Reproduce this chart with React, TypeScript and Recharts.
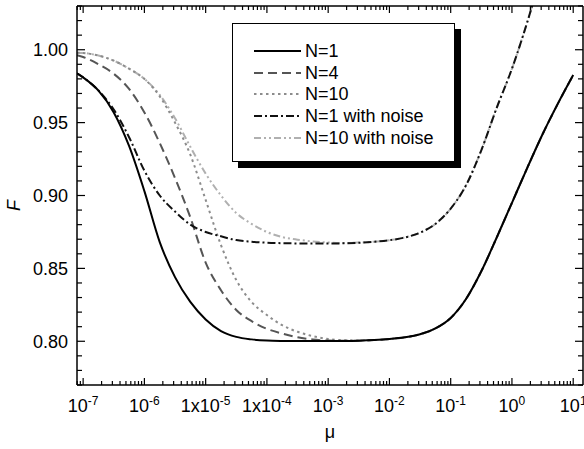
import React from 'react';
import { LineChart, Line, XAxis, YAxis, Legend } from 'recharts';

// mu grid (quarter decades, plus the left edge of the axis)
const mu = [
  7.94e-8, 1e-7, 1.78e-7, 3.16e-7, 5.62e-7, 1e-6, 1.78e-6, 3.16e-6, 5.62e-6,
  1e-5, 1.78e-5, 3.16e-5, 5.62e-5, 1e-4, 1.78e-4, 3.16e-4, 5.62e-4,
  1e-3, 1.78e-3, 3.16e-3, 5.62e-3, 1e-2, 1.78e-2, 3.16e-2, 5.62e-2,
  0.1, 0.178, 0.316, 0.562, 1, 1.78, 3.16, 5.62, 10,
];

const n1 = [
  0.9838, 0.981, 0.972, 0.957, 0.934, 0.903, 0.868, 0.844, 0.827,
  0.815, 0.807, 0.803, 0.8013, 0.8005, 0.8002, 0.8001, 0.8001,
  0.8001, 0.8002, 0.8004, 0.8008, 0.8015, 0.8027, 0.8048, 0.8088,
  0.816, 0.829, 0.848, 0.871, 0.895, 0.919, 0.942, 0.963, 0.9826,
];
const n4 = [
  0.9963, 0.995, 0.99, 0.9835, 0.9731, 0.957, 0.936, 0.912, 0.885,
  0.854, 0.835, 0.8215, 0.8138, 0.8085, 0.8053, 0.8027, 0.8012,
  0.8005, 0.8003, 0.8004, 0.8008, 0.8015, 0.8027, 0.8048, 0.8088,
  0.816, 0.829, 0.848, 0.871, 0.895, 0.919, 0.942, 0.963, 0.9826,
];
const n10 = [
  0.998, 0.9978, 0.996, 0.9925, 0.987, 0.98, 0.968, 0.95, 0.928,
  0.897, 0.866, 0.842, 0.827, 0.818, 0.811, 0.8065, 0.8035,
  0.8015, 0.8008, 0.8006, 0.8008, 0.8015, 0.8027, 0.8048, 0.8088,
  0.816, 0.829, 0.848, 0.871, 0.895, 0.919, 0.942, 0.963, 0.9826,
];
const n1Noise = [
  0.9838, 0.981, 0.972, 0.959, 0.94, 0.917, 0.9, 0.889, 0.88,
  0.875, 0.872, 0.8694, 0.8683, 0.8676, 0.8673, 0.8671, 0.867,
  0.867, 0.8672, 0.8676, 0.8683, 0.8693, 0.8712, 0.8745, 0.8805,
  0.891, 0.907, 0.931, 0.96, 0.987, 1.019, 1.055, null, null,
];
const n10Noise = [
  0.998, 0.9978, 0.996, 0.9925, 0.987, 0.98, 0.969, 0.953, 0.9334,
  0.915, 0.9, 0.888, 0.8805, 0.875, 0.8715, 0.8697, 0.8685,
  0.8678, 0.8674, 0.8677, 0.8683, 0.8693, 0.8712, 0.8745, 0.8805,
  0.891, 0.907, 0.931, 0.96, 0.987, 1.019, 1.055, null, null,
];

const xMajor = [1e-7, 1e-6, 1e-5, 1e-4, 1e-3, 1e-2, 1e-1, 1, 10];
const xBase = ['10', '10', '1x10', '1x10', '10', '10', '10', '10', '10'];
const xExp = ['-7', '-6', '-5', '-4', '-3', '-2', '-1', '0', '1'];

const yMajor = [0.8, 0.85, 0.9, 0.95, 1.0];
const yTicks = [
  0.77, 0.78, 0.79, 0.8, 0.81, 0.82, 0.83, 0.84, 0.85, 0.86, 0.87, 0.88, 0.89,
  0.9, 0.91, 0.92, 0.93, 0.94, 0.95, 0.96, 0.97, 0.98, 0.99, 1.0, 1.01, 1.02, 1.03,
];

const X_MIN = 7.94e-8;
const X_MAX = 14.45;
const Y_DOMAIN = [0.77, 1.03];

const xTicks: number[] = [];
for (let k = -8; k <= 1; k++) {
  for (let m = 1; m <= 9; m++) {
    const v = m === 1 ? xMajor[k + 7] ?? 10 ** k : m * 10 ** k;
    if (v >= X_MIN && v <= X_MAX) xTicks.push(v);
  }
}

const data = mu.map((m, i) => ({
  mu: m,
  n1: n1[i],
  n4: n4[i],
  n10: n10[i],
  n1Noise: n1Noise[i],
  n10Noise: n10Noise[i],
}));

// legend order
const series = [
  { key: 'n1', name: 'N=1', color: '#000000', dash: undefined as string | undefined },
  { key: 'n4', name: 'N=4', color: '#555555', dash: '9 5' },
  { key: 'n10', name: 'N=10', color: '#8c8c8c', dash: '2.5 3.5' },
  { key: 'n1Noise', name: 'N=1 with noise', color: '#111111', dash: '8 3 2 3' },
  { key: 'n10Noise', name: 'N=10 with noise', color: '#b0b0b0', dash: '7 3 2 3 2 3' },
];
// draw order (light ones under dark ones)
const drawOrder = ['n10Noise', 'n10', 'n4', 'n1Noise', 'n1'];

const font = "'Liberation Sans', Arial, Helvetica, sans-serif";

const isMajorX = (v: number) => xMajor.findIndex((t) => Math.abs(t - v) / t < 1e-6);
const isMajorY = (v: number) => yMajor.some((t) => Math.abs(t - v) < 1e-6);

const BottomTick = (props: any) => {
  const { x, y, payload } = props;
  const i = isMajorX(payload.value);
  return (
    <g>
      <line x1={x} x2={x} y1={y} y2={y - (i >= 0 ? 7 : 4)} stroke="#000" strokeWidth={1.2} />
      {i >= 0 && (
        <text x={x} y={y + 27} textAnchor="middle" fontSize={18} fontFamily={font} fill="#000">
          {xBase[i]}
          <tspan dy={-7} fontSize={12}>{xExp[i]}</tspan>
        </text>
      )}
    </g>
  );
};

const TopTick = (props: any) => {
  const { x, y, payload } = props;
  const major = isMajorX(payload.value) >= 0;
  return <line x1={x} x2={x} y1={y} y2={y + (major ? 7 : 4)} stroke="#000" strokeWidth={1.2} />;
};

const LeftTick = (props: any) => {
  const { x, y, payload } = props;
  const major = isMajorY(payload.value);
  return (
    <g>
      <line x1={x} x2={x + (major ? 8 : 5)} y1={y} y2={y} stroke="#000" strokeWidth={1.2} />
      {major && (
        <text x={x - 9} y={y} dy="0.36em" textAnchor="end" fontSize={18} fontFamily={font} fill="#000">
          {payload.value.toFixed(2)}
        </text>
      )}
    </g>
  );
};

const RightTick = (props: any) => {
  const { x, y, payload } = props;
  const major = isMajorY(payload.value);
  return <line x1={x} x2={x - (major ? 8 : 5)} y1={y} y2={y} stroke="#000" strokeWidth={1.2} />;
};

const LegendBox = () => (
  <div
    style={{
      width: 223,
      height: 139,
      boxSizing: 'border-box',
      border: '1.5px solid #000',
      background: '#fff',
      boxShadow: '6px 6px 0 #000',
      paddingTop: 16,
      paddingLeft: 21,
      fontFamily: font,
    }}
  >
    {series.map((s) => (
      <div key={s.key} style={{ display: 'flex', alignItems: 'center', height: 21.7 }}>
        <svg width={47} height={10}>
          <line x1={0} x2={47} y1={5} y2={5} stroke={s.color} strokeWidth={2} strokeDasharray={s.dash} />
        </svg>
        <span style={{ fontSize: 18, lineHeight: 1, marginLeft: 4, color: '#000' }}>{s.name}</span>
      </div>
    ))}
  </div>
);

export default function App() {
  return (
    <div style={{ position: 'absolute', left: 0, top: 0, background: '#fff' }}>
      <LineChart width={584} height={449} data={data} margin={{ top: 0, right: 0, bottom: 0, left: 0 }}>
        <XAxis
          dataKey="mu"
          type="number"
          scale="log"
          domain={[X_MIN, X_MAX]}
          allowDataOverflow
          ticks={xTicks}
          interval={0}
          height={64}
          tickSize={0}
          tickMargin={0}
          tickLine={false}
          axisLine={{ stroke: '#000', strokeWidth: 1.5 }}
          tick={BottomTick}
          label={{
            content: ({ viewBox }: any) => (
              <text x={viewBox.x + viewBox.width / 2} y={viewBox.y + 53} textAnchor="middle" fontSize={18} fontFamily={font} fill="#000">
                μ
              </text>
            ),
          }}
        />
        <XAxis
          xAxisId="top"
          dataKey="mu"
          orientation="top"
          type="number"
          scale="log"
          domain={[X_MIN, X_MAX]}
          allowDataOverflow
          ticks={xTicks}
          interval={0}
          height={6}
          tickSize={0}
          tickMargin={0}
          tickLine={false}
          axisLine={{ stroke: '#000', strokeWidth: 1.5 }}
          tick={TopTick}
        />
        <YAxis
          type="number"
          domain={Y_DOMAIN}
          allowDataOverflow
          ticks={yTicks}
          interval={0}
          width={77}
          tickSize={0}
          tickMargin={0}
          tickLine={false}
          axisLine={{ stroke: '#000', strokeWidth: 1.5 }}
          tick={LeftTick}
          label={{
            content: ({ viewBox }: any) => {
              const cx = 20;
              const cy = viewBox.y + viewBox.height / 2 + 10;
              return (
                <text x={cx} y={cy} textAnchor="middle" fontSize={18} fontStyle="italic" fontFamily={font} fill="#000" transform={`rotate(-90 ${cx} ${cy})`}>
                  F
                </text>
              );
            },
          }}
        />
        <YAxis
          yAxisId="right"
          orientation="right"
          type="number"
          domain={Y_DOMAIN}
          allowDataOverflow
          ticks={yTicks}
          interval={0}
          width={1}
          tickSize={0}
          tickMargin={0}
          tickLine={false}
          axisLine={{ stroke: '#000', strokeWidth: 1.5 }}
          tick={RightTick}
        />
        {drawOrder.map((k) => {
          const s = series.find((d) => d.key === k)!;
          return (
            <Line
              key={s.key}
              dataKey={s.key}
              name={s.name}
              type="monotone"
              stroke={s.color}
              strokeWidth={2}
              strokeDasharray={s.dash}
              dot={false}
              activeDot={false}
              isAnimationActive={false}
            />
          );
        })}
        <Legend
          layout="vertical"
          align="center"
          verticalAlign="middle"
          wrapperStyle={{ left: 232, top: 23, width: 223, height: 139 }}
          content={() => <LegendBox />}
        />
      </LineChart>
    </div>
  );
}
